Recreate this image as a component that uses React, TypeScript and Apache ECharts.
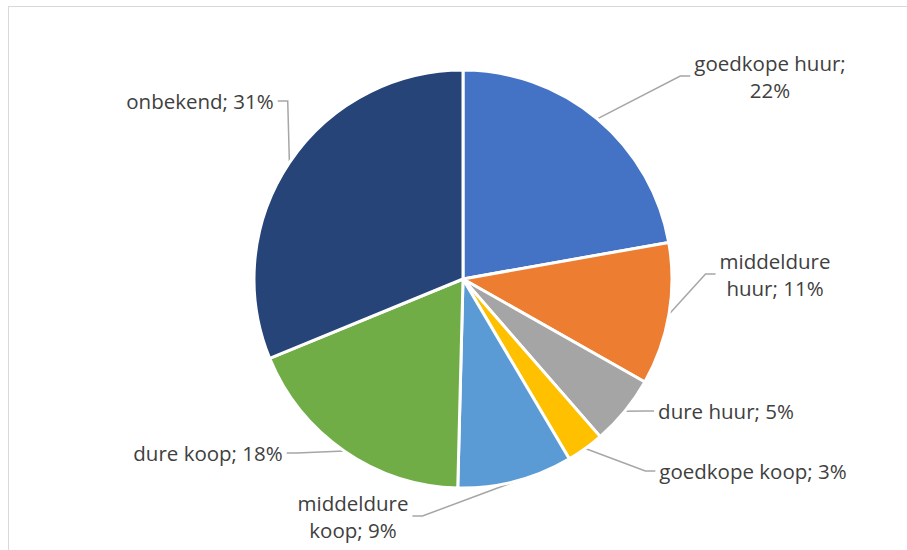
import React, { useEffect, useRef } from "react";
import * as echarts from "echarts";

const categories = [
  "goedkope huur",
  "middeldure huur",
  "dure huur",
  "goedkope koop",
  "middeldure koop",
  "dure koop",
  "onbekend",
];
const values = [22.2, 11.0, 5.4, 2.9, 8.9, 18.4, 31.2];
// labels that Excel wraps onto two lines, and where the break goes
const wrapAfterName = [true, false, false, false, false, false, false];
const wrapInsideName = [false, true, false, false, true, false, false];

const colors = ["#4472C4", "#ED7D31", "#A5A5A5", "#FFC000", "#5B9BD5", "#70AD47", "#264478"];

// label block centres (x, y) in chart pixels
const labelPos: [number, number][] = [
  [770, 76],
  [775, 274],
  [726, 411],
  [753, 471],
  [353, 516],
  [208, 453],
  [200, 101],
];

export default function App() {
  const ref = useRef<HTMLDivElement>(null);
  useEffect(() => {
    if (!ref.current) return;
    const chart = echarts.init(ref.current, null, { renderer: "svg" });
    const data = categories.map((name, i) => ({
      name,
      value: values[i],
      itemStyle: { color: colors[i] },
    }));
    chart.setOption({
      animation: false,
      series: [
        {
          type: "pie",
          center: [463, 279],
          radius: 209,
          startAngle: 90,
          clockwise: true,
          avoidLabelOverlap: false,
          itemStyle: { borderColor: "#ffffff", borderWidth: 3 },
          label: {
            show: true,
            position: "outside",
            color: "#404040",
            fontFamily: "Open Sans",
            fontSize: 20.5,
            lineHeight: 27,
            align: "center",
            padding: [0, 4],
            formatter: (p: any) => {
              const i = p.dataIndex;
              const pct = Math.round(p.percent) + "%";
              let name = p.name as string;
              if (wrapInsideName[i]) {
                const parts = name.split(" ");
                return parts[0] + "\n" + parts.slice(1).join(" ") + "; " + pct;
              }
              if (wrapAfterName[i]) return name + ";\n" + pct;
              return name + "; " + pct;
            },
          },
          labelLine: {
            show: true,
            length: 20,
            length2: 10,
            lineStyle: { color: "#A6A6A6", width: 1.5 },
          },
          labelLayout: (p: any) => {
            const pos = labelPos[p.dataIndex];
            return { x: pos[0], y: pos[1], align: "center", verticalAlign: "middle" };
          },
          emphasis: { disabled: true },
          data,
        },
      ],
    });
    return () => chart.dispose();
  }, []);
  return (
    <div
      style={{
        position: "absolute",
        left: 0,
        top: 0,
        width: 907,
        height: 550,
        overflow: "hidden",
        background: "#ffffff",
      }}
    >
      <div
        style={{
          position: "absolute",
          left: 8,
          top: 6,
          width: 1200,
          height: 1200,
          border: "1px solid #D9D9D9",
          boxSizing: "border-box",
        }}
      />
      <div ref={ref} style={{ position: "absolute", left: 0, top: 0, width: 907, height: 550 }} />
    </div>
  );
}
